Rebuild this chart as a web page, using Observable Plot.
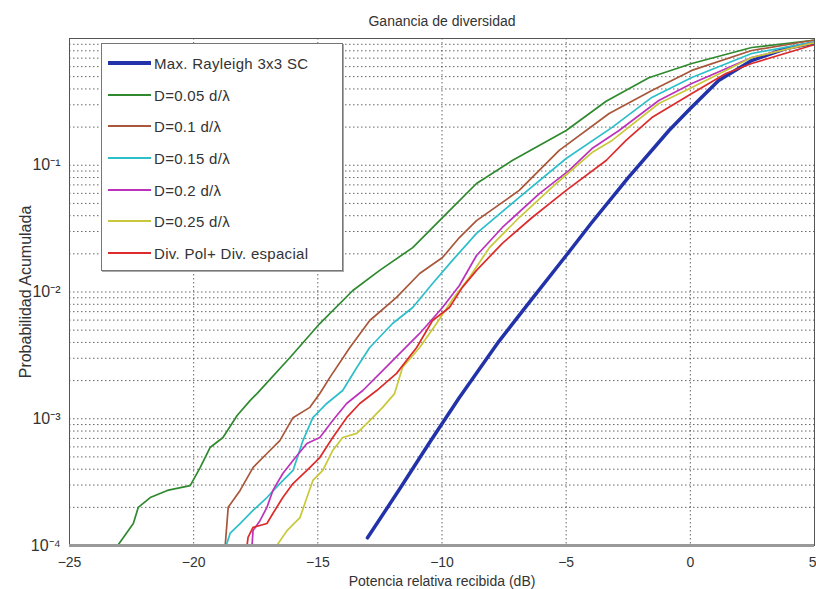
<!DOCTYPE html>
<html><head><meta charset="utf-8">
<script src="https://cdn.jsdelivr.net/npm/d3@7"></script>
<script src="https://cdn.jsdelivr.net/npm/@observablehq/plot@0.6"></script>
<style>
body{margin:0;background:#fff;}
#wrap{position:relative;width:816px;height:589px;font-family:"Liberation Sans",Arial,sans-serif;}
#legend{position:absolute;left:101px;top:43px;width:242px;height:228px;background:#fff;border:1px solid #777;box-sizing:border-box;box-shadow:1px 1px 0 #aaa;}
.item{position:absolute;left:6px;height:20px;display:flex;align-items:center;font-size:15px;color:#333;letter-spacing:0.3px;white-space:nowrap;}
.sw{width:43px;margin-right:3px;}
</style></head><body><div id="wrap"></div>
<script>
const title = "Ganancia de diversidad";
const xLabel = "Potencia relativa recibida (dB)";
const yLabel = "Probabilidad Acumulada";
const xTicks = [-25, -20, -15, -10, -5, 0, 5];
const yTicks = [1e-4, 1e-3, 1e-2, 1e-1];
const yTickLabels = ["10\u207B\u2074", "10\u207B\u00B3", "10\u207B\u00B2", "10\u207B\u00B9"];
const seriesNames = ["Max. Rayleigh 3x3 SC", "D=0.05 d/\u03BB", "D=0.1 d/\u03BB", "D=0.15 d/\u03BB", "D=0.2 d/\u03BB", "D=0.25 d/\u03BB", "Div. Pol+ Div. espacial"];
const seriesColors = ["#2233aa", "#2f8a2f", "#a8573a", "#2cbfca", "#bb33bb", "#c8c83a", "#dd2b2b"];
const seriesWidths = [3.5, 1.7, 1.7, 1.7, 1.7, 1.7, 1.7];
const swatchWidths = [4, 2.5, 2.5, 2.5, 2.5, 2.5, 2.5];

const rayleigh = [[-13.0,1.15e-4],[-11.7,2.8e-4],[-10.5,6.5e-4],[-9.3,1.47e-3],[-7.7,4.1e-3],[-6.5,8.2e-3],[-5.0,0.0194],[-4.0,0.0347],[-2.5,0.080],[-0.86,0.188],[0,0.28],[1.14,0.467],[2.47,0.67],[3.84,0.834],[4.88,0.914],[5,0.92]];
const d005 = [[-23.03,1.02e-4],[-22.43,1.49e-4],[-22.23,2.0e-4],[-21.75,2.39e-4],[-21.06,2.72e-4],[-20.14,2.97e-4],[-19.74,4.12e-4],[-19.34,5.93e-4],[-18.82,7.11e-4],[-18.25,1.06e-3],[-17.73,1.39e-3],[-17.45,1.58e-3],[-16.12,3.04e-3],[-14.92,5.64e-3],[-13.59,0.01028],[-12.51,0.0148],[-11.18,0.0224],[-9.82,0.0416],[-8.61,0.0718],[-7.17,0.109],[-5.0,0.188],[-3.39,0.32],[-1.67,0.49],[0.06,0.635],[2.47,0.849],[4.88,0.964],[5,0.97]];
const d010 = [[-18.73,1e-4],[-18.61,2.0e-4],[-18.13,2.72e-4],[-17.61,4.12e-4],[-17.05,5.32e-4],[-16.53,6.73e-4],[-16.0,1.02e-3],[-15.32,1.23e-3],[-14.92,1.58e-3],[-14.52,2.11e-3],[-13.71,3.65e-3],[-12.91,5.96e-3],[-11.83,9.06e-3],[-10.9,0.014],[-9.98,0.0187],[-9.3,0.0269],[-8.61,0.0366],[-6.89,0.0633],[-5.28,0.131],[-3.27,0.256],[-1.55,0.389],[0.06,0.56],[2.47,0.804],[4.88,0.964],[5,0.97]];
const d015 = [[-18.69,1e-4],[-18.53,1.25e-4],[-18.13,1.49e-4],[-17.61,1.89e-4],[-17.05,2.39e-4],[-16.53,3.08e-4],[-16.0,3.91e-4],[-15.6,6.73e-4],[-15.2,1.02e-3],[-14.64,1.32e-3],[-14.0,1.67e-3],[-13.43,2.54e-3],[-12.91,3.65e-3],[-11.99,5.64e-3],[-11.18,7.55e-3],[-10.38,0.01167],[-9.58,0.01775],[-8.61,0.029],[-6.89,0.0557],[-5.0,0.113],[-3.15,0.199],[-1.55,0.343],[0.06,0.492],[2.47,0.762],[4.88,0.93],[5,0.94]];
const d020 = [[-17.65,1e-4],[-17.61,1.31e-4],[-17.33,1.57e-4],[-17.05,2.0e-4],[-16.81,2.72e-4],[-16.41,3.7e-4],[-16.0,4.69e-4],[-15.44,6.38e-4],[-14.92,7.11e-4],[-14.4,9.68e-4],[-13.84,1.32e-3],[-13.19,1.67e-3],[-12.39,2.4e-3],[-11.71,3.27e-3],[-10.9,4.71e-3],[-9.98,7.55e-3],[-9.3,0.01125],[-8.61,0.0194],[-7.57,0.0323],[-6.08,0.0598],[-4.88,0.091],[-3.96,0.1355],[-2.87,0.188],[-1.27,0.324],[0.06,0.442],[2.47,0.708],[4.88,0.914],[5,0.92]];
const d025 = [[-16.65,1e-4],[-16.24,1.31e-4],[-15.72,1.66e-4],[-15.44,2.39e-4],[-15.2,3.26e-4],[-14.8,3.91e-4],[-14.4,5.62e-4],[-14.0,7.11e-4],[-13.43,7.66e-4],[-12.91,9.68e-4],[-12.39,1.23e-3],[-11.91,1.58e-3],[-11.59,2.54e-3],[-10.9,3.65e-3],[-10.22,5.64e-3],[-9.58,8.73e-3],[-8.9,0.013],[-8.09,0.0224],[-6.89,0.0387],[-5.4,0.0718],[-3.96,0.126],[-3.15,0.157],[-1.27,0.307],[0.06,0.41],[2.47,0.708],[4.88,0.914],[5,0.92]];
const divPol = [[-17.85,1e-4],[-17.81,1.16e-4],[-17.61,1.39e-4],[-17.05,1.49e-4],[-16.81,1.79e-4],[-16.41,2.39e-4],[-16.0,3.08e-4],[-15.44,3.91e-4],[-14.92,4.94e-4],[-14.4,7.11e-4],[-13.84,1.02e-3],[-13.31,1.32e-3],[-12.63,1.67e-3],[-11.83,2.28e-3],[-11.02,3.65e-3],[-10.38,5.96e-3],[-9.7,7.55e-3],[-9.18,0.01087],[-8.61,0.0148],[-7.57,0.0242],[-6.37,0.0387],[-5.0,0.0633],[-3.39,0.109],[-2.59,0.157],[-1.55,0.238],[0.06,0.368],[1.43,0.53],[2.47,0.635],[4.88,0.881],[5,0.89]];

const allSeries = [rayleigh, d005, d010, d015, d020, d025, divPol];
const yGrid = [];
for (let e = -4; e < 0; e++) for (let k = 1; k < 10; k++) yGrid.push(k * Math.pow(10, e));

const lineMarks = allSeries.map((s, i) => Plot.line(s, {
  x: d => d[0], y: d => d[1], stroke: seriesColors[i], strokeWidth: seriesWidths[i], clip: true
}));

const chart = Plot.plot({
  width: 816, height: 589,
  marginLeft: 69, marginRight: 2, marginTop: 38, marginBottom: 44,
  style: {fontFamily: "'Liberation Sans', Arial, sans-serif", fontSize: "14px", color: "#333", background: "#fff"},
  x: {domain: [-25, 5]},
  y: {type: "log", domain: [1e-4, 1]},
  marks: [
    Plot.ruleY(yGrid, {stroke: "#333", strokeOpacity: 0.75, strokeDasharray: "1.5,2.5"}),
    Plot.ruleX(xTicks.slice(1, -1), {stroke: "#333", strokeOpacity: 0.75, strokeDasharray: "1.5,2.5"}),
    ...lineMarks,
    Plot.frame({stroke: "#555"}),
    Plot.ruleY([1e-4], {stroke: "#999", strokeWidth: 3}),
    Plot.axisX(xTicks.slice(0, -1), {tickSize: 0, tickPadding: 12, fontSize: 14, label: xLabel, labelAnchor: "center", labelOffset: 40, labelArrow: "none"}),
    Plot.axisX(xTicks.slice(-1), {tickSize: 0, tickPadding: 12, fontSize: 14, textAnchor: "end", dx: 2, label: null}),
    Plot.axisY(yTicks, {tickSize: 0, tickPadding: 9, fontSize: 16, tickFormat: d => yTickLabels[yTicks.indexOf(d)], label: yLabel, labelAnchor: "center", labelOffset: 50, labelArrow: "none"}),
    Plot.text([title], {frameAnchor: "top", dy: -22, fontSize: 14, fill: "#333"})
  ]
});
const wrap = document.getElementById("wrap");
wrap.appendChild(chart);

const legend = document.createElement("div");
legend.id = "legend";
const centers = [19, 51, 82, 114, 146, 177, 209];
seriesNames.forEach((n, i) => {
  const it = document.createElement("div");
  it.className = "item";
  it.style.top = (centers[i] - 10) + "px";
  const sw = document.createElement("div");
  sw.className = "sw";
  sw.style.borderTop = swatchWidths[i] + "px solid " + seriesColors[i];
  it.appendChild(sw);
  const t = document.createElement("span");
  t.textContent = n;
  it.appendChild(t);
  legend.appendChild(it);
});
wrap.appendChild(legend);
</script>
</body></html>
